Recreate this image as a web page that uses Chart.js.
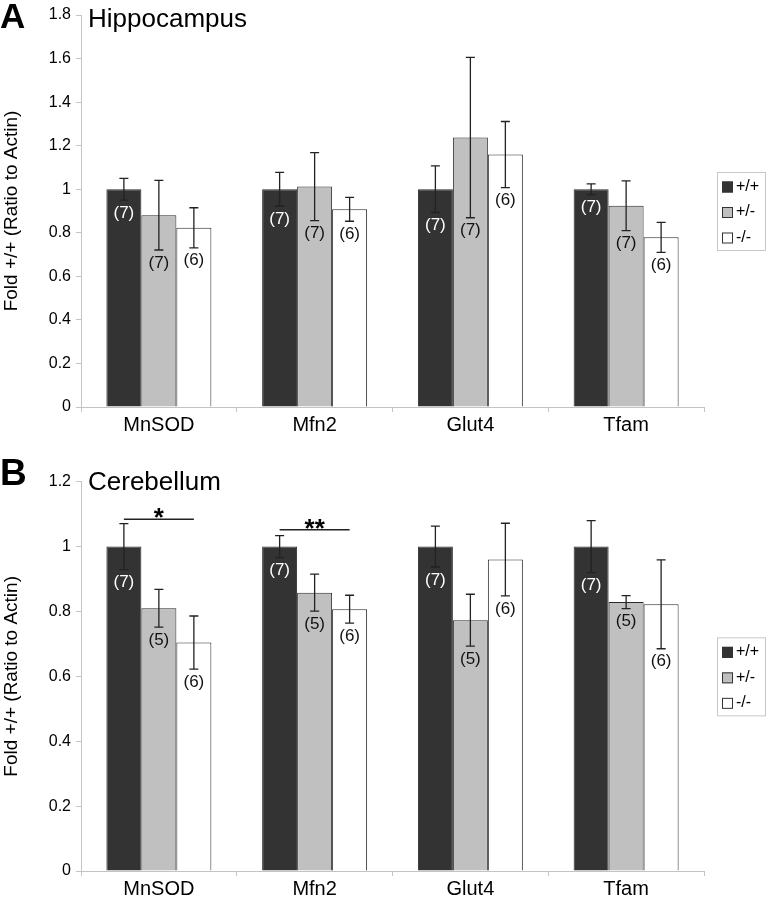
<!DOCTYPE html>
<html>
<head>
<meta charset="utf-8">
<script src="https://cdn.jsdelivr.net/npm/chart.js@4.4.0/dist/chart.umd.min.js"></script>
<style>
  html, body { margin: 0; padding: 0; background: #fff; }
  #wrap { position: relative; width: 766px; height: 899px; }
  canvas { position: absolute; left: 0; }
  #chartA { top: 0; }
  #chartB { top: 440px; }
</style>
</head>
<body>
<div id="wrap">
  <canvas id="chartA" width="766" height="440"></canvas>
  <canvas id="chartB" width="766" height="459"></canvas>
</div>
<script>
const FONT = '"Liberation Sans", Arial, sans-serif';

const categories = ['MnSOD', 'Mfn2', 'Glut4', 'Tfam'];
const genotypes = ['+/+', '+/-', '-/-'];
const barColors = ['#333333', '#c0c0c0', '#ffffff'];
const nColors = ['#ffffff', '#111111', '#111111'];

// A - hippocampus
const hipWT = [1, 1, 1, 1];
const hipHet = [0.881, 1.012, 1.237, 0.924];
const hipKO = [0.823, 0.908, 1.159, 0.779];
const hipWTErr = [0.05, 0.077, 0.107, 0.025];
const hipHetErr = [0.16, 0.156, 0.368, 0.114];
const hipKOErr = [0.092, 0.055, 0.152, 0.069];
const hipWTN = [7, 7, 7, 7];
const hipHetN = [7, 7, 7, 7];
const hipKON = [6, 6, 6, 6];
const hipTicks = ['0', '0.2', '0.4', '0.6', '0.8', '1', '1.2', '1.4', '1.6', '1.8'];

// B - cerebellum
const cbWT = [1, 1, 1, 1];
const cbHet = [0.81, 0.858, 0.773, 0.829];
const cbKO = [0.704, 0.807, 0.96, 0.822];
const cbWTErr = [0.071, 0.034, 0.063, 0.08];
const cbHetErr = [0.058, 0.057, 0.08, 0.02];
const cbKOErr = [0.082, 0.043, 0.112, 0.137];
const cbWTN = [7, 7, 7, 7];
const cbHetN = [5, 5, 5, 5];
const cbKON = [6, 6, 6, 6];
const cbTicks = ['0', '0.2', '0.4', '0.6', '0.8', '1', '1.2'];

// significance brackets (+/+ vs -/-)
const cbSigCats = ['MnSOD', 'Mfn2'];
const cbSigMarks = ['*', '**'];
const cbSigY = [1.084, 1.052];

function makeDatasets(means, errs, ns) {
    return genotypes.map((g, i) => ({
        label: g,
        data: means[i],
        errors: errs[i],
        n: ns[i],
        backgroundColor: barColors[i],
        borderColor: '#2b2b2b',
        borderWidth: 1,
        categoryPercentage: 0.674,
        barPercentage: 1
    }));
}

const errorBars = {
    id: 'errorBars',
    afterDatasetsDraw(chart) {
        const ctx = chart.ctx, y = chart.scales.y;
        chart.data.datasets.forEach((ds, i) => {
            chart.getDatasetMeta(i).data.forEach((bar, j) => {
                const v = ds.data[j], e = ds.errors[j];
                const top = y.getPixelForValue(v + e);
                const bot = y.getPixelForValue(v - e);
                ctx.save();
                ctx.strokeStyle = '#222';
                ctx.lineWidth = 1.3;
                ctx.beginPath();
                ctx.moveTo(bar.x, top); ctx.lineTo(bar.x, bot);
                ctx.moveTo(bar.x - 4.5, top); ctx.lineTo(bar.x + 4.5, top);
                ctx.moveTo(bar.x - 4.5, bot); ctx.lineTo(bar.x + 4.5, bot);
                ctx.stroke();
                ctx.fillStyle = nColors[i];
                ctx.font = '17px ' + FONT;
                ctx.textAlign = 'center';
                ctx.textBaseline = 'middle';
                ctx.fillText('(' + ds.n[j] + ')', bar.x, bot + 13);
                ctx.restore();
            });
        });
    }
};

const sigBars = {
    id: 'sigBars',
    afterDatasetsDraw(chart, args, opts) {
        if (!opts.cats) return;
        const ctx = chart.ctx, y = chart.scales.y;
        opts.cats.forEach((c, k) => {
            const j = chart.data.labels.indexOf(c);
            const x1 = chart.getDatasetMeta(0).data[j].x;
            const x2 = chart.getDatasetMeta(2).data[j].x;
            const ly = y.getPixelForValue(opts.ys[k]);
            ctx.save();
            ctx.strokeStyle = '#222';
            ctx.lineWidth = 1.5;
            ctx.beginPath();
            ctx.moveTo(x1, ly); ctx.lineTo(x2, ly);
            ctx.stroke();
            ctx.fillStyle = '#000';
            ctx.font = 'bold 26px ' + FONT;
            ctx.textAlign = 'center';
            ctx.textBaseline = 'alphabetic';
            ctx.fillText(opts.marks[k], (x1 + x2) / 2, ly + 7);
            ctx.restore();
        });
    }
};

const boxLegend = {
    id: 'boxLegend',
    afterDraw(chart) {
        const ctx = chart.ctx, a = chart.chartArea;
        const x0 = a.right + 13, w = 48, h = 78;
        const y0 = (a.top + a.bottom) / 2 - h / 2;
        ctx.save();
        ctx.strokeStyle = '#c8c8c8';
        ctx.lineWidth = 1;
        ctx.strokeRect(x0 + 0.5, y0 + 0.5, w, h);
        chart.data.datasets.forEach((ds, i) => {
            const cy = y0 + 14.5 + i * 25.5;
            ctx.fillStyle = ds.backgroundColor;
            ctx.fillRect(x0 + 5, cy - 5, 11, 11);
            ctx.strokeStyle = '#333';
            ctx.strokeRect(x0 + 5.5, cy - 4.5, 10, 10);
            ctx.fillStyle = '#000';
            ctx.font = '16px ' + FONT;
            ctx.textAlign = 'left';
            ctx.textBaseline = 'middle';
            ctx.fillText(ds.label, x0 + 19, cy);
        });
        ctx.restore();
    }
};

const panelText = {
    id: 'panelText',
    afterDraw(chart, args, opts) {
        const ctx = chart.ctx;
        ctx.save();
        ctx.fillStyle = '#000';
        ctx.textAlign = 'left';
        ctx.textBaseline = 'alphabetic';
        ctx.font = 'bold ' + opts.letterSize + 'px ' + FONT;
        ctx.fillText(opts.letter, 0, opts.letterY);
        ctx.font = '26px ' + FONT;
        ctx.fillText(opts.title, 88, opts.titleY);
        ctx.restore();
    }
};

function makeChart(id, datasets, maxY, tickLabels, padTop, xHeight, panel, sig) {
    return new Chart(document.getElementById(id), {
        type: 'bar',
        data: { labels: categories, datasets },
        options: {
            responsive: false,
            animation: false,
            devicePixelRatio: 1,
            layout: { padding: { left: 0, right: 62, top: padTop, bottom: 0 } },
            plugins: {
                legend: { display: false },
                tooltip: { enabled: false },
                panelText: panel,
                sigBars: sig || {}
            },
            scales: {
                x: {
                    grid: { display: true, drawOnChartArea: false, color: '#c4c4c4', tickLength: 5 },
                    border: { display: true, color: '#c4c4c4' },
                    ticks: { color: '#000', font: { family: FONT, size: 20 }, padding: 1 },
                    afterFit(scale) { scale.height = xHeight; }
                },
                y: {
                    min: 0,
                    max: maxY,
                    grid: { display: true, drawOnChartArea: false, color: '#c4c4c4', tickLength: 5 },
                    border: { display: true, color: '#c4c4c4' },
                    ticks: {
                        stepSize: 0.2,
                        color: '#000',
                        font: { family: FONT, size: 16 },
                        padding: 5,
                        callback: v => tickLabels[Math.round(v / 0.2)]
                    },
                    title: {
                        display: true,
                        text: 'Fold +/+ (Ratio to Actin)',
                        color: '#000',
                        font: { family: FONT, size: 19 },
                        padding: 0
                    },
                    afterFit(scale) { scale.width = 81; }
                }
            }
        },
        plugins: [errorBars, sigBars, boxLegend, panelText]
    });
}

makeChart('chartA',
    makeDatasets([hipWT, hipHet, hipKO], [hipWTErr, hipHetErr, hipKOErr], [hipWTN, hipHetN, hipKON]),
    1.8, hipTicks, 15, 33,
    { letter: 'A', letterSize: 35, letterY: 28, title: 'Hippocampus', titleY: 27 });

makeChart('chartB',
    makeDatasets([cbWT, cbHet, cbKO], [cbWTErr, cbHetErr, cbKOErr], [cbWTN, cbHetN, cbKON]),
    1.2, cbTicks, 41.7, 28,
    { letter: 'B', letterSize: 37, letterY: 45, title: 'Cerebellum', titleY: 50 },
    { cats: cbSigCats, marks: cbSigMarks, ys: cbSigY });
</script>
</body>
</html>
